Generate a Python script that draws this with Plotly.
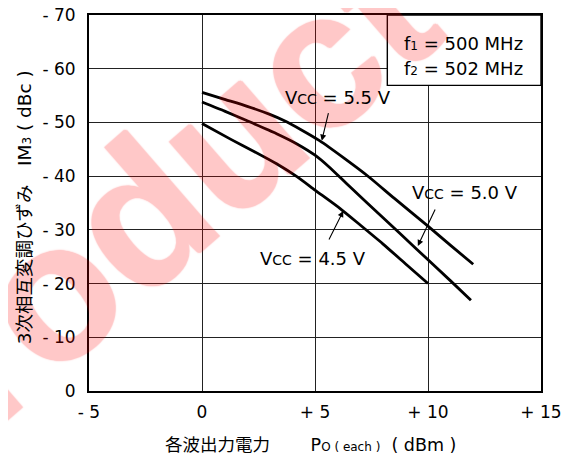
import plotly.graph_objects as go

# ---- data (IM3 in dBc, output power each in dBm) ----
x_55 = [0, 1, 2, 3, 3.6, 4.4, 5.2, 6.3, 7.4, 8.5, 10, 11, 12]
y_55 = [-55.6, -54.3, -53.0, -51.5, -50.4, -48.6, -46.6, -43.3, -39.8, -35.9, -30.7, -27.1, -23.6]

x_50 = [0, 1, 2, 3.3, 4.2, 5.0, 5.6, 6.5, 8, 9.5, 11, 11.9]
y_50 = [-53.8, -52.1, -50.3, -47.9, -46.0, -43.9, -41.8, -38.2, -32.3, -26.4, -20.5, -16.9]

x_45 = [0, 1.3, 2.3, 3.3, 4.2, 5.0, 6.1, 7.0, 8.0, 9.0, 10.0]
y_45 = [-49.8, -46.8, -44.6, -42.3, -39.9, -37.4, -34.0, -30.9, -27.4, -23.7, -20.0]

x_tickvals = [-5, 0, 5, 10, 15]
x_ticktext = ["- 5", "0", "+ 5", "+ 10", "+ 15"]
y_tickvals = [0, -10, -20, -30, -40, -50, -60, -70]
y_ticktext = ["0", "- 10", "- 20", "- 30", "- 40", "- 50", "- 60", "- 70"]

FONT = "DejaVu Sans, Noto Sans CJK JP, sans-serif"

fig = go.Figure()
for xs, ys, name in [(x_55, y_55, "Vcc = 5.5 V"), (x_50, y_50, "Vcc = 5.0 V"), (x_45, y_45, "Vcc = 4.5 V")]:
    fig.add_trace(go.Scatter(x=xs, y=ys, mode="lines", name=name,
                             line=dict(color="black", width=2.8, shape="spline", smoothing=0.6),
                             showlegend=False, hoverinfo="skip"))

annotations = []
# watermark
annotations.append(dict(text="<b>Product</b>", xref="paper", yref="paper", x=0.083, y=0.44,
                        showarrow=False, textangle=-41, opacity=0.21,
                        font=dict(family="Liberation Sans, Arial, sans-serif", size=195,
                                  color="#ff0000",
                                  shadow="0 0 2px #ff0000, 1px 1px 1px #ff0000, -1px -1px 1px #ff0000"),
                        xanchor="center", yanchor="middle"))

def vcc(v):
    return "V<span style='font-size:14px'>CC</span> = " + v + " V"

label_font = dict(family=FONT, size=18, color="black")
annotations += [
    dict(text=vcc("5.5"), x=6.03, y=-54.7, showarrow=False, font=label_font),
    dict(text=vcc("5.0"), x=11.63, y=-37.0, showarrow=False, font=label_font),
    dict(text=vcc("4.5"), x=4.93, y=-24.7, showarrow=False, font=label_font),
    # arrows
    dict(text="", x=5.3, y=-46.6, ax=7, ay=-29, showarrow=True, arrowhead=2, arrowsize=1.1,
         arrowwidth=1.1, arrowcolor="black"),
    dict(text="", x=9.55, y=-27.0, ax=18, ay=-38, showarrow=True, arrowhead=2, arrowsize=1.1,
         arrowwidth=1.1, arrowcolor="black"),
    dict(text="", x=6.25, y=-33.5, ax=-15, ay=30, showarrow=True, arrowhead=2, arrowsize=1.1,
         arrowwidth=1.1, arrowcolor="black"),
    # condition box text
    dict(text="f<span style='font-size:12px'>1</span> = 500 MHz", x=8.85, y=-64.7, xanchor="left",
         showarrow=False, font=dict(family=FONT, size=18, color="black")),
    dict(text="f<span style='font-size:12px'>2</span> = 502 MHz", x=8.85, y=-60.1, xanchor="left",
         showarrow=False, font=dict(family=FONT, size=18, color="black")),
    # axis titles
    dict(text="3次相互変調ひずみ　IM<span style='font-size:12px'>3</span> ( dBc )",
         xref="paper", yref="paper", x=-0.1424, y=0.4877, textangle=-90, showarrow=False,
         xanchor="center", yanchor="middle", font=dict(family=FONT, size=18.5, color="black")),
    dict(text="各波出力電力　　 P<span style='font-size:12px'>O ( each )</span>  ( dBm )",
         xref="paper", yref="paper", x=0.491, y=-0.1435, showarrow=False,
         xanchor="center", yanchor="middle", font=dict(family=FONT, size=17.5, color="black")),
]

# page body has an 8px margin, so the figure is 8px smaller and margins shifted
fig.update_layout(
    width=567, height=455,
    margin=dict(l=81, r=34, t=7, b=72, autoexpand=False),
    paper_bgcolor="white", plot_bgcolor="white",
    font=dict(family=FONT, size=16, color="black"),
    annotations=annotations,
    shapes=[dict(type="rect", xref="x", yref="y", x0=8.2, x1=15, y0=-70, y1=-56.9,
                 fillcolor="white", line=dict(color="black", width=1.4), layer="above")],
)
fig.update_xaxes(range=[-5, 15], tickvals=x_tickvals, ticktext=x_ticktext, automargin=False,
                 showgrid=True, gridcolor="#222", gridwidth=1, zeroline=False,
                 showline=True, linecolor="black", linewidth=2, mirror=True,
                 ticks="", ticklabelstandoff=5, ticklabeloverflow="allow",
                 tickfont=dict(family=FONT, size=17, color="black"))
fig.update_yaxes(range=[0, -70], tickvals=y_tickvals, ticktext=y_ticktext, automargin=False,
                 showgrid=True, gridcolor="#222", gridwidth=1, zeroline=False,
                 showline=True, linecolor="black", linewidth=2, mirror=True,
                 ticks="", ticklabelstandoff=8, ticklabeloverflow="allow",
                 tickfont=dict(family=FONT, size=17, color="black"))

fig.write_html("out.html")
